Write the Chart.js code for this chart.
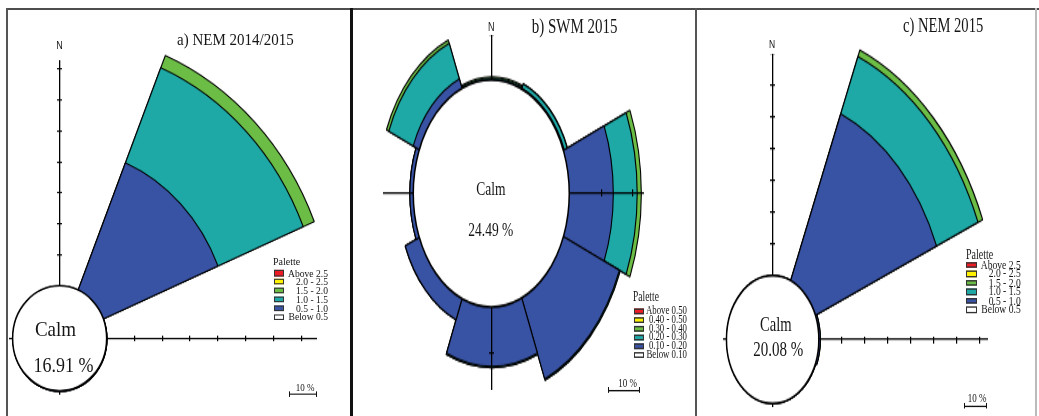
<!DOCTYPE html>
<html><head><meta charset="utf-8">
<script src="https://cdn.jsdelivr.net/npm/chart.js@4.4.1/dist/chart.umd.min.js"></script>
<style>
html,body{margin:0;padding:0;background:#fff;}
body{width:1039px;height:416px;position:relative;overflow:hidden;}
.panel{position:absolute;top:0;height:416px;overflow:hidden;}
.inner{position:absolute;left:0;top:0;transform-origin:0 0;}
.inner canvas{position:absolute;}
.t{position:absolute;white-space:nowrap;line-height:1;color:#161616;}
.box{position:absolute;box-sizing:border-box;border:1px solid #333;}
.ln{position:absolute;background:#111;}
.frame{position:absolute;z-index:10;}
</style></head><body>
<div id="pa" class="panel"></div>
<div id="pb" class="panel"></div>
<div id="pc" class="panel"></div>
<div class="frame" style="left:6px;top:8px;width:1033px;height:2px;background:#4d4d4d"></div>
<div class="frame" style="left:6px;top:8px;width:2px;height:408px;background:#555"></div>
<div class="frame" style="left:350px;top:8px;width:3px;height:408px;background:#111"></div>
<div class="frame" style="left:695px;top:8px;width:2px;height:408px;background:#555"></div>
<div class="frame" style="left:1035px;top:8px;width:2px;height:408px;background:#bbb"></div>
<script>
// ---------------- data ----------------
const directions = ['N', 'NE', 'E', 'SE', 'S', 'SW', 'W', 'NW'];

// a) NEM 2014/2015 (percent of time, by speed class)
const calmA  = 16.91;
const blueA  = [0, 44.6, 0, 0, 0, 0, 0, 0];
const tealA  = [0, 33.2, 0, 0, 0, 0, 0, 0];
const greenA = [0, 4.3, 0, 0, 0, 0, 0, 0];

// b) SWM 2015
const calmB  = 24.49;
const blueB  = [0.1, 0.1, 13.6, 18.8, 12.8, 5.0, 1.3, 2.3];
const tealB  = [0.3, 1.0, 7.5, 0.3, 0.3, 0, 0, 8.3];
const greenB = [0.3, 0.1, 1.3, 0, 0, 0, 0, 0.8];

// c) NEM 2015
const calmC  = 20.08;
const blueC  = [0, 56.9, 0.5, 0, 0, 0, 0, 0];
const tealC  = [0, 19.5, 0, 0, 0, 0, 0, 0];
const greenC = [0, 2.2, 0, 0, 0, 0, 0, 0];

const legendAC = ['Above 2.5', '2.0 - 2.5', '1.5 - 2.0', '1.0 - 1.5', '0.5 - 1.0', 'Below 0.5'];
const legendB  = ['Above 0.50', '0.40 - 0.50', '0.30 - 0.40', '0.20 - 0.30', '0.10 - 0.20', 'Below 0.10'];
const titles = ['a) NEM 2014/2015', 'b) SWM 2015', 'c) NEM 2015'];
const tickStep = 10;   // axis ticks every 10 %
const scaleBarLabel = '10 %';

// ---------------- styles / layout ----------------
const seriesColors = ['#3953a4', '#1ea8a6', '#6cbd45'];
const legendColors = ['#ed1c24', '#fff200', '#6cbd45', '#1ea8a6', '#3953a4', '#ffffff'];
const SERIF = '"Liberation Serif","Times New Roman",serif';
const SANS = '"Liberation Sans",Arial,sans-serif';

const panels = [
  { el: 'pa', L: 8, R: 350, k: 1.115, cx: 60, cy: 338.5, ppu: 2.78, calm: calmA,
    series: [blueA, tealA, greenA], arms: { n: 72.9, e: 75.5, s: 1.3, w: 1.3 }, title: titles[0],
    titleX: 177, titleB: 45, titleFs: 15, nX: 59.5, nB: 50, nFs: 9,
    calmX: 55.5, calmB: 335, calmFs: 19, pctX: 63.5, pctB: 373, pctFs: 18,
    leg: legendAC, palX: 273, palB: 266, palFs: 10, boxX: 274, boxW: 10, boxH: 6, row0: 270, pitch: 8.8, labR: 328, labFs: 9.6,
    barX: 289, barY: 394, barTX: 305, barTB: 392, barFs: 9 },
  { el: 'pb', L: 353, R: 695, k: 1.455, cx: 491.5, cy: 193.5, ppu: 3.185, calm: calmB,
    series: [blueB, tealB, greenB], arms: { n: 9.7, e: 23.4, s: 17.9, w: 9.5 }, title: titles[1],
    titleX: 531.7, titleB: 35, titleFs: 15, nX: 491.3, nB: 31.7, nFs: 9,
    calmX: 490.8, calmB: 195, calmFs: 13.5, pctX: 490.8, pctB: 236, pctFs: 13.5,
    leg: legendB, palX: 633, palB: 302, palFs: 9.5, boxX: 634, boxW: 10, boxH: 6, row0: 308, pitch: 8.8, labR: 687, labFs: 8.8,
    barX: 608, barY: 390, barTX: 627.5, barTB: 388, barFs: 9 },
  { el: 'pc', L: 697, R: 1035, k: 1.38, cx: 772.5, cy: 340, ppu: 2.30, calm: calmC,
    series: [blueC, tealC, greenC], arms: { n: 70.1, e: 73.5, s: 1.2, w: 1.5 }, title: titles[2],
    titleX: 903, titleB: 31.7, titleFs: 14.6, nX: 772, nB: 48.3, nFs: 8.5,
    calmX: 775.8, calmB: 331.7, calmFs: 14.6, pctX: 778.3, pctB: 356.7, pctFs: 15,
    leg: legendAC, palX: 966, palB: 260, palFs: 10, boxX: 966, boxW: 11, boxH: 6, row0: 262, pitch: 9, labR: 1020.7, labFs: 9.6,
    barX: 964, barY: 405.7, barTX: 977, barTB: 402, barFs: 9 }
];

function addText(inner, p, str, x, baseline, fs, align, family) {
  const el = document.createElement('div');
  el.className = 't';
  el.textContent = str;
  el.style.fontSize = fs + 'px';
  el.style.fontFamily = family;
  const asc = family === SANS ? 0.8465 : 0.8375;
  el.style.top = (baseline / p.k - asc * fs) + 'px';
  if (align === 'center') {
    el.style.left = (x - p.L) + 'px';
    el.style.transform = 'translateX(-50%)';
  } else if (align === 'right') {
    el.style.right = ((p.R - p.L) - (x - p.L)) + 'px';
  } else {
    el.style.left = (x - p.L) + 'px';
  }
  inner.appendChild(el);
  return el;
}

function addRect(inner, p, cls, x, y, w, h, bg) {
  const d = document.createElement('div');
  d.className = cls;
  d.style.left = (x - p.L) + 'px';
  d.style.top = (y / p.k) + 'px';
  d.style.width = w + 'px';
  d.style.height = (h / p.k) + 'px';
  if (bg) d.style.background = bg;
  inner.appendChild(d);
}

function polarChart(p, inner) {
  const totals = directions.map((_, i) => p.series.reduce((s, a) => s + a[i], 0));
  const half = Math.ceil((p.calm + Math.max(...totals)) * p.ppu + 12);
  const S = half * 2;
  const cv = document.createElement('canvas');
  cv.width = S; cv.height = S;
  cv.style.left = (p.cx - p.L - half) + 'px';
  cv.style.top = (p.cy / p.k - half) + 'px';
  cv.style.zIndex = 1;
  inner.appendChild(cv);
  let cum = directions.map(() => 0);
  const datasets = p.series.map((arr, j) => {
    cum = cum.map((v, i) => v + arr[i]);
    return { data: cum.slice(), backgroundColor: seriesColors[j], borderColor: '#000', borderWidth: 1.1 };
  });
  new Chart(cv, {
    type: 'polarArea',
    data: { labels: directions, datasets },
    options: {
      responsive: false, animation: false, events: [],
      layout: { padding: 0 },
      plugins: { legend: { display: false }, tooltip: { enabled: false } },
      scales: { r: {
        min: -p.calm, max: half / p.ppu - p.calm, startAngle: -22.5,
        ticks: { display: false }, grid: { display: false },
        angleLines: { display: false }, pointLabels: { display: false }
      } }
    }
  });
}

function axesChart(p, inner) {
  const xmin = -(p.calm + p.arms.w), ymin = -(p.calm + p.arms.s);
  const W = Math.round((p.calm + p.arms.e - xmin) * p.ppu);
  const H = Math.round((p.calm + p.arms.n - ymin) * p.ppu);
  const xmax = xmin + W / p.ppu, ymax = ymin + H / p.ppu;
  const cv = document.createElement('canvas');
  cv.width = W; cv.height = H;
  cv.style.left = (p.cx - p.L + xmin * p.ppu) + 'px';
  cv.style.top = (p.cy / p.k - ymax * p.ppu) + 'px';
  cv.style.zIndex = 2;
  inner.appendChild(cv);
  const tv = (arm) => { const t = []; for (let v = p.calm + tickStep; v <= p.calm + arm + 0.3; v += tickStep) t.push(v); return t; };
  const xTicks = tv(p.arms.e).concat(tv(p.arms.w).map(v => -v));
  const yTicks = tv(p.arms.n).concat(tv(p.arms.s).map(v => -v));
  const off = 2.5 / p.ppu;
  const lineAxis = (axis, min, max, pos) => ({
    type: 'linear', axis, min, max, position: pos,
    grid: { display: false }, ticks: { display: false },
    border: { display: true, color: '#000', width: 1.3 },
    afterFit: s => { if (axis === 'x') s.height = 0; else s.width = 0; }
  });
  const tickAxis = (axis, min, max, pos, vals) => ({
    type: 'linear', axis, min, max, position: pos,
    grid: { display: true, drawOnChartArea: false, drawTicks: true, tickLength: 5, color: '#000', lineWidth: 1.2 },
    ticks: { display: false }, border: { display: false },
    afterBuildTicks: s => { s.ticks = vals.map(v => ({ value: v })); },
    afterFit: s => { if (axis === 'x') s.height = 0; else s.width = 0; }
  });
  new Chart(cv, {
    type: 'scatter',
    data: { datasets: [{
      data: [{ x: 0, y: 0, calm: p.calm }],
      clip: false,
      pointBackgroundColor: '#fff', pointBorderColor: '#000', pointBorderWidth: 1.5,
      pointRadius: ctx => {
        const sx = ctx.chart.scales.x;
        return Math.abs(sx.getPixelForValue(p.calm) - sx.getPixelForValue(0));
      }
    }] },
    options: {
      responsive: false, animation: false, events: [],
      layout: { padding: 0 },
      plugins: { legend: { display: false }, tooltip: { enabled: false } },
      scales: {
        x: lineAxis('x', xmin, xmax, { y: 0 }),
        y: lineAxis('y', ymin, ymax, { x: 0 }),
        xt: tickAxis('x', xmin, xmax, { y: off }, xTicks),
        yt: tickAxis('y', ymin, ymax, { x: off }, yTicks)
      }
    }
  });
}

panels.forEach(p => {
  const panel = document.getElementById(p.el);
  panel.style.left = p.L + 'px';
  panel.style.width = (p.R - p.L) + 'px';
  const inner = document.createElement('div');
  inner.className = 'inner';
  inner.style.width = (p.R - p.L) + 'px';
  inner.style.height = (416 / p.k) + 'px';
  inner.style.transform = 'scaleY(' + p.k + ')';
  panel.appendChild(inner);

  polarChart(p, inner);
  axesChart(p, inner);

  const z3 = (el) => { el.style.zIndex = 3; };
  z3(addText(inner, p, p.title, p.titleX, p.titleB, p.titleFs, 'left', SERIF));
  z3(addText(inner, p, 'N', p.nX, p.nB, p.nFs, 'center', SANS));
  z3(addText(inner, p, 'Calm', p.calmX, p.calmB, p.calmFs, 'center', SERIF));
  z3(addText(inner, p, p.calm.toFixed(2) + ' %', p.pctX, p.pctB, p.pctFs, 'center', SERIF));

  // legend
  addText(inner, p, 'Palette', p.palX, p.palB, p.palFs, 'left', SERIF);
  p.leg.forEach((lab, i) => {
    const top = p.row0 + i * p.pitch;
    addRect(inner, p, 'box', p.boxX, top, p.boxW, p.boxH, legendColors[i]);
    addText(inner, p, lab, p.labR, top + p.boxH + 0.5, p.labFs, 'right', SERIF);
  });

  // 10 % scale bar
  const len = tickStep * p.ppu;
  addRect(inner, p, 'ln', p.barX, p.barY - 0.6, len, 1.2);
  addRect(inner, p, 'ln', p.barX, p.barY - 2.5, 1.2, 5);
  addRect(inner, p, 'ln', p.barX + len - 1.2, p.barY - 2.5, 1.2, 5);
  addText(inner, p, scaleBarLabel, p.barTX, p.barTB, p.barFs, 'center', SERIF);
});
</script>
</body></html>
